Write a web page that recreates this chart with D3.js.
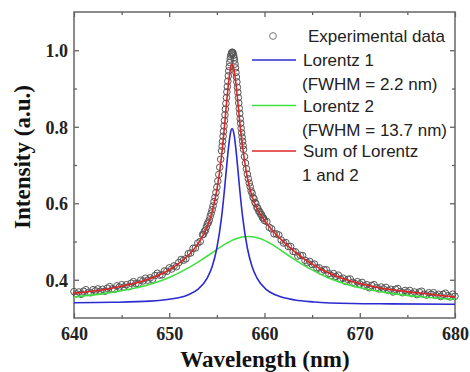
<!doctype html>
<html>
  <head>
    <script src="https://d3js.org/d3.v7.min.js"></script>
    <style>
      body { margin: 0; background: #fff; }
      .axis path { display: none; }
      .axis line { stroke: #555; stroke-width: 1.2; }
      .axis text { font-family: "Liberation Serif", "Times New Roman", serif; font-weight: bold; font-size: 18px; fill: #222; }
      .legend text { font-family: "Liberation Sans", Arial, sans-serif; font-size: 17px; fill: #222; }
    </style>
  </head>

  <body>
    <svg class="chart" width=470 height=372></svg>

    <script>
      // experimental spectrum: sampling grid (nm) and measured intensity
      var expWavelength = [].concat(
        d3.range(640, 653.26, 0.25),
        d3.range(653.5, 655.45, 0.1),
        d3.range(655.5, 657.825, 0.05),
        d3.range(657.9, 660.05, 0.1),
        d3.range(660.25, 680.1, 0.25));
      var expIntensity = [
        0.369,0.363,0.368,0.362,0.370,0.374,0.367,0.366,0.374,0.371,
        0.376,0.370,0.375,0.370,0.378,0.382,0.376,0.375,0.384,0.381,
        0.387,0.381,0.387,0.382,0.391,0.395,0.390,0.390,0.399,0.397,
        0.404,0.399,0.405,0.401,0.411,0.417,0.412,0.413,0.423,0.422,
        0.431,0.428,0.436,0.434,0.445,0.453,0.451,0.455,0.468,0.470,
        0.482,0.483,0.496,0.500,
        0.518,0.519,0.527,0.529,0.538,0.546,0.549,0.556,0.566,0.574,
        0.583,0.593,0.604,0.615,0.628,0.642,0.658,0.675,0.694,0.715,
        0.737,0.749,0.762,0.775,0.788,0.802,0.816,0.831,0.846,0.861,
        0.876,0.891,0.905,0.919,0.933,0.946,0.957,0.968,0.977,0.984,
        0.989,0.993,0.995,0.994,0.992,0.987,0.981,0.974,0.964,0.954,
        0.942,0.930,0.917,0.903,0.890,0.876,0.862,0.848,0.835,0.821,
        0.809,0.796,0.784,0.773,0.762,0.751,0.741,
        0.722,0.705,0.690,0.676,0.664,0.653,0.643,0.632,0.626,0.615,
        0.612,0.602,0.599,0.589,0.587,0.579,0.578,0.571,0.570,0.562,
        0.561,0.555,
        0.552,0.537,0.533,0.520,0.520,0.517,0.504,0.496,0.497,0.487,
        0.487,0.474,0.473,0.462,0.464,0.463,0.451,0.445,0.448,0.440,
        0.441,0.431,0.431,0.422,0.426,0.426,0.416,0.411,0.416,0.409,
        0.412,0.402,0.404,0.396,0.401,0.402,0.393,0.390,0.395,0.389,
        0.393,0.384,0.387,0.379,0.385,0.387,0.379,0.376,0.381,0.376,
        0.380,0.372,0.375,0.368,0.375,0.377,0.369,0.366,0.372,0.368,
        0.372,0.364,0.368,0.361,0.368,0.370,0.362,0.360,0.366,0.362,
        0.366,0.359,0.362,0.356,0.362,0.365,0.358,0.355,0.362,0.357];

      // Lorentz 1 (narrow)
      var l1Wavelength = [640,644,648,650,652,653,654,654.5,655,655.5,655.8,656,656.2,656.4,656.6,
                          656.8,657,657.2,657.4,657.7,658.2,658.7,659.2,660.2,661.2,663.2,665.2,669.2,673.2,680];
      var l1Intensity = [0.340,0.341,0.344,0.349,0.361,0.375,0.405,0.434,0.483,0.565,0.636,0.690,0.741,0.780,0.795,
                         0.780,0.741,0.690,0.636,0.565,0.483,0.434,0.405,0.374,0.360,0.347,0.342,0.338,0.337,0.336];

      // Lorentz 2 (broad)
      var l2Wavelength = [640,644,648,650,652,654,656,657,658.3,659.6,660.6,662.6,664.6,666.6,668.6,672.6,676.6,680];
      var l2Intensity = [0.355,0.367,0.388,0.406,0.431,0.462,0.495,0.507,0.513,0.507,0.495,0.462,0.431,0.406,0.388,0.367,0.355,0.349];

      // sum of Lorentz 1 and 2
      var sumWavelength = [640,644,648,650,652,653,654,654.5,655,655.5,655.8,656,656.3,656.45,656.6,656.75,656.9,
                           657.2,657.4,657.7,658.2,658.7,659.2,660,661,662,664,666,668,672,676,680];
      var sumIntensity = [0.365,0.378,0.403,0.426,0.464,0.493,0.540,0.578,0.635,0.725,0.801,0.858,0.930,0.955,0.963,0.955,0.932,
                          0.865,0.812,0.748,0.667,0.618,0.587,0.555,0.524,0.499,0.457,0.427,0.405,0.379,0.366,0.355];

      var xMajor = [640,650,660,670,680];
      var xMinor = [645,655,665,675];
      var yMajor = [0.4,0.6,0.8,1.0];
      var yMinor = [0.5,0.7,0.9];

      var legendItems = [
        {label: ["Lorentz 1", "(FWHM = 2.2 nm)"], color: "#2b2bd0"},
        {label: ["Lorentz 2", "(FWHM = 13.7 nm)"], color: "#3ee03e"},
        {label: ["Sum of Lorentz", "1 and 2"], color: "#e02424"}
      ];

      var svg = d3.select("svg"),
        plotL = 74, plotR = 455, plotT = 12, plotB = 318;

      var x = d3.scaleLinear().domain([640,680]).range([plotL,plotR]);
      var y = d3.scaleLinear().domain([0.3,1.1]).range([plotB,plotT]);

      // ticks, all pointing inwards
      function ticks(axis, vals, size, tx, ty, fmt, pad, dy) {
        axis.tickValues(vals).tickSize(-size).tickPadding(pad || 0).tickFormat(fmt || "");
        var g = svg.append("g").attr("class", "axis")
          .attr("transform", "translate(" + tx + "," + ty + ")")
          .call(axis);
        if (dy) g.selectAll("text").attr("dy", dy);
      }
      ticks(d3.axisBottom(x), xMajor, 5, 0, plotB, d3.format("d"), 9, "0.71em");
      ticks(d3.axisBottom(x), xMinor, 3, 0, plotB);
      ticks(d3.axisTop(x), xMajor, 5, 0, plotT);
      ticks(d3.axisTop(x), xMinor, 3, 0, plotT);
      ticks(d3.axisLeft(y), yMajor, 5, plotL, 0, d3.format(".1f"), 6, "0.35em");
      ticks(d3.axisLeft(y), yMinor, 3, plotL, 0);
      ticks(d3.axisRight(y), yMajor, 5, plotR, 0);
      ticks(d3.axisRight(y), yMinor, 3, plotR, 0);

      svg.append("rect")
        .attr("x", plotL).attr("y", plotT)
        .attr("width", plotR - plotL).attr("height", plotB - plotT)
        .attr("fill", "none").attr("stroke", "#666").attr("stroke-width", 1.5);

      // experimental points
      svg.append("g").selectAll("circle")
        .data(d3.zip(expWavelength, expIntensity))
        .enter().append("circle")
        .attr("cx", function(d){return x(d[0]);})
        .attr("cy", function(d){return y(d[1]);})
        .attr("r", 3.3)
        .attr("fill", "none")
        .attr("stroke", "#555")
        .attr("stroke-width", 1);

      var line = d3.line()
        .x(function(d){return x(d[0]);})
        .y(function(d){return y(d[1]);})
        .curve(d3.curveMonotoneX);

      function curve(xs, ys, color) {
        svg.append("path")
          .datum(d3.zip(xs, ys))
          .attr("d", line)
          .attr("fill", "none")
          .attr("stroke", color)
          .attr("stroke-width", 1.6);
      }
      curve(l2Wavelength, l2Intensity, legendItems[1].color);
      curve(l1Wavelength, l1Intensity, legendItems[0].color);
      curve(sumWavelength, sumIntensity, legendItems[2].color);

      // legend
      var lg = svg.append("g").attr("class", "legend");
      lg.append("circle").attr("cx", 273).attr("cy", 36).attr("r", 3.4)
        .attr("fill", "none").attr("stroke", "#777").attr("stroke-width", 1);
      lg.append("text").attr("x", 308).attr("y", 42).text("Experimental data");
      legendItems.forEach(function(d, i) {
        var cy = 60 + i * 45.5;
        lg.append("line").attr("x1", 252).attr("x2", 296).attr("y1", cy).attr("y2", cy)
          .attr("stroke", d.color).attr("stroke-width", 1.6);
        lg.append("text").attr("x", 303).attr("y", cy + 6).text(d.label[0]);
        lg.append("text").attr("x", 302).attr("y", cy + 30).text(d.label[1]);
      });

      // axis titles
      svg.append("text")
        .attr("transform", "translate(30,157) rotate(-90)")
        .attr("text-anchor", "middle")
        .style("font-family", "'Liberation Serif', 'Times New Roman', serif")
        .style("font-weight", "bold").style("font-size", "23px").style("fill", "#111")
        .text("Intensity (a.u.)");
      svg.append("text")
        .attr("x", 265).attr("y", 367)
        .attr("text-anchor", "middle")
        .style("font-family", "'Liberation Serif', 'Times New Roman', serif")
        .style("font-weight", "bold").style("font-size", "23px").style("fill", "#111")
        .text("Wavelength (nm)");
    </script>
  </body>
</html>
